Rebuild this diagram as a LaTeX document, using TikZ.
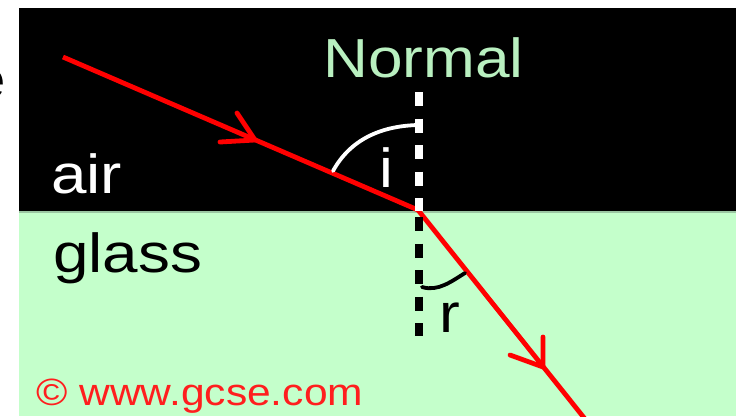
\documentclass[tikz,border=0pt]{standalone}
\usepackage{fontspec}
\usepackage{graphicx}
\setmainfont{Liberation Sans}
\definecolor{glassgreen}{RGB}{196,255,203}
\definecolor{normalgreen}{RGB}{185,240,192}
\definecolor{sepgreen}{RGB}{155,198,162}
\definecolor{copyred}{RGB}{255,30,30}
\begin{document}
\begin{tikzpicture}[x=1pt,y=-1pt,
  lbl/.style={inner sep=0pt, font=\fontsize{55}{60}\selectfont},
  small/.style={inner sep=0pt, font=\fontsize{38}{42}\selectfont},
  ray/.style={draw=red, line width=4.8pt},
  chev/.style={draw=red, line width=4.8pt, line cap=round, line join=round},
  normdash/.style={line width=8pt, dash pattern=on 14pt off 12.5pt},
  anglearc/.style={line width=3.8pt, line cap=round}]
\useasboundingbox (0,0) rectangle (736,416);
\clip (0,0) rectangle (736,416);
% regions
\fill[black] (19,8) rectangle (736,211);
\fill[glassgreen] (19,211) rectangle (736,416);
\draw[sepgreen, line width=2.5pt] (19,212.2) -- (736,212.2);
% cut-off letter at the left edge
\node[lbl, anchor=base east, text=black] (cut) at (6,98) {\scalebox{1.13}[1]{e}};
% key points
\coordinate (src) at (63,57);
\coordinate (hit) at (418,210);
\coordinate (out) at (593,429);
\coordinate (ntop) at (418.5,92);
\coordinate (nmid) at (418.5,211);
\coordinate (nlow) at (418.5,217);
\coordinate (nbot) at (418.5,336);
% rays
\draw[ray] (src) -- (hit);
\draw[ray] (hit) -- (out);
% arrow chevrons
\coordinate (tipA) at (255,140);
\coordinate (armA1) at (237,113);
\coordinate (armA2) at (220,142);
\draw[chev] (armA1) -- (tipA) -- (armA2);
\coordinate (tipB) at (543,367);
\coordinate (armB1) at (543,337);
\coordinate (armB2) at (510,355);
\draw[chev] (armB1) -- (tipB) -- (armB2);
% normal
\draw[white, normdash] (ntop) -- (nmid);
\draw[black, normdash] (nlow) -- (nbot);
% angle arcs
\coordinate (iA) at (333,171);
\coordinate (iB) at (418,125);
\draw[white, anglearc] (iA) .. controls (350,140) and (380,126) .. (iB);
\coordinate (rA) at (422,287);
\coordinate (rB) at (465,273);
\draw[black, anglearc] (rA) .. controls (438,292) and (452,281) .. (rB);
% labels
\node[lbl, anchor=base, text=normalgreen] (normal) at (423.5,77) {\scalebox{1.13}[1]{Normal}};
\node[lbl, anchor=base west, text=white] (air) at (51,193) {\scalebox{1.16}[1]{air}};
\node[lbl, anchor=base west, text=black] (glass) at (53,272) {\scalebox{1.16}[1]{glass}};
\node[lbl, anchor=base west, text=white] (ilabel) at (379,187) {\scalebox{1.13}[1]{i}};
\node[lbl, anchor=base west, text=black] (rlabel) at (439,332) {\scalebox{1.13}[1]{r}};
\node[small, anchor=base west, text=copyred] (copy) at (36,405) {\scalebox{1.12}[1]{© www.gcse.com}};
\end{tikzpicture}
\end{document}
